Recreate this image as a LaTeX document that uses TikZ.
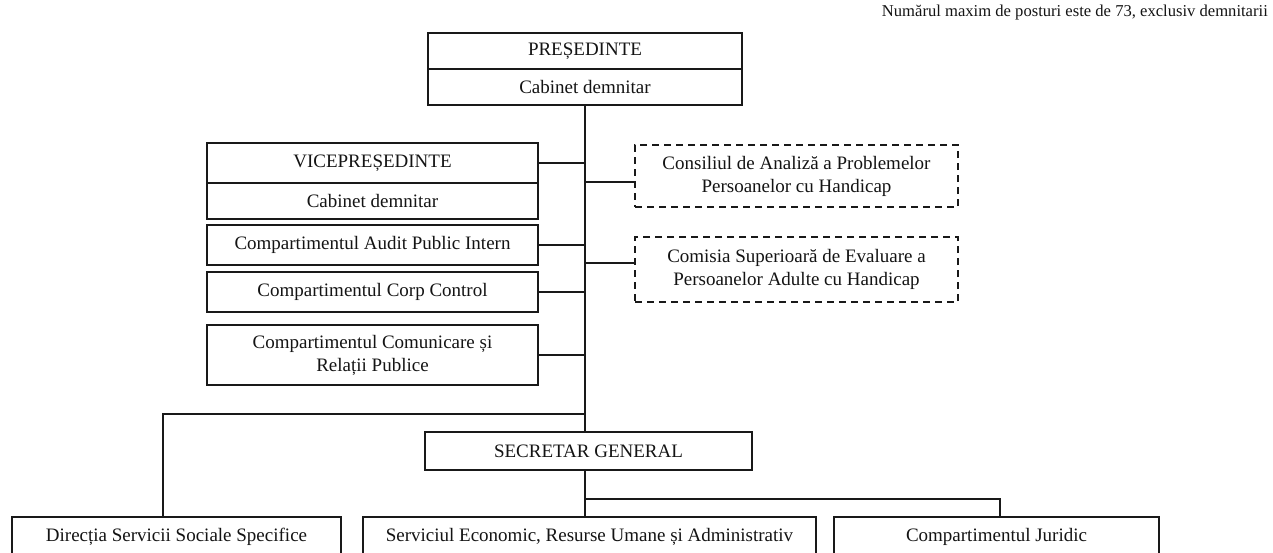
\documentclass[tikz,border=0pt]{standalone}
\usepackage{fontspec}
\setmainfont{Liberation Serif}
\begin{document}
\begin{tikzpicture}[x=1pt,y=-1pt,
  box/.style={draw=black!90, line width=1.6pt, inner sep=0pt, align=center,
    text=black!92, font=\fontsize{19}{23}\selectfont},
  dbox/.style={box, dash pattern=on 7pt off 5pt, line width=1.4pt},
  conn/.style={draw=black!90, line width=1.6pt}]
\useasboundingbox (0,0) rectangle (1273,552);
\clip (0,0) rectangle (1273,552);
\fill[white] (0,0) rectangle (1273,552);

\node[anchor=east, text=black!92, font=\fontsize{16.6}{19}\selectfont, inner sep=0pt] (note) at (1268,13)
  {Numărul maxim de posturi este de 73, exclusiv demnitarii};

\node[box, minimum width=314pt, minimum height=36pt] (pres) at (585,51) {PREȘEDINTE};
\node[box, minimum width=314pt, minimum height=36pt] (prescab) at (585,87) {Cabinet demnitar};

\node[box, minimum width=331pt, minimum height=40pt] (vice) at (372.5,163) {VICEPREȘEDINTE};
\node[box, minimum width=331pt, minimum height=36pt] (vicecab) at (372.5,201) {Cabinet demnitar};
\node[box, minimum width=331pt, minimum height=40pt] (audit) at (372.5,245) {Compartimentul Audit Public Intern};
\node[box, minimum width=331pt, minimum height=40pt] (corp) at (372.5,292) {Compartimentul Corp Control};
\node[box, minimum width=331pt, minimum height=60pt] (comm) at (372.5,355) {Compartimentul Comunicare și\\Relații Publice};

\node[dbox, minimum width=323pt, minimum height=62pt] (cons) at (796.5,176) {Consiliul de Analiză a Problemelor\\Persoanelor cu Handicap};
\node[dbox, minimum width=323pt, minimum height=65pt] (comisia) at (796.5,269.5) {Comisia Superioară de Evaluare a\\Persoanelor Adulte cu Handicap};

\node[box, minimum width=327pt, minimum height=38pt] (sg) at (588.5,451) {SECRETAR GENERAL};

\node[box, minimum width=329pt, minimum height=40pt] (dir) at (176.5,537) {Direcția Servicii Sociale Specifice};
\node[box, minimum width=453pt, minimum height=40pt] (serv) at (589.5,537) {Serviciul Economic, Resurse Umane și Administrativ};
\node[box, minimum width=325pt, minimum height=40pt] (jur) at (996.5,537) {Compartimentul Juridic};

\coordinate (j1) at (585,414);
\coordinate (j2) at (585,499);

% trunk
\draw[conn] (prescab.south) -- (prescab.south |- sg.north);
% left branches
\draw[conn] (vice.east) -- (vice.east -| prescab.south);
\draw[conn] (audit.east) -- (audit.east -| prescab.south);
\draw[conn] (corp.east) -- (corp.east -| prescab.south);
\draw[conn] (comm.east) -- (comm.east -| prescab.south);
% right branches
\draw[conn] ([yshift=-6pt]cons.west) -- ([yshift=-6pt]cons.west -| prescab.south);
\draw[conn] ([yshift=6.5pt]comisia.west) -- ([yshift=6.5pt]comisia.west -| prescab.south);
% Directia
\draw[conn] (j1) -| ([xshift=-13.5pt]dir.north);
% Secretar down
\draw[conn] (prescab.south |- sg.south) -- (prescab.south |- serv.north);
\draw[conn] (j2) -| ([xshift=3.5pt]jur.north);
\end{tikzpicture}
\end{document}
